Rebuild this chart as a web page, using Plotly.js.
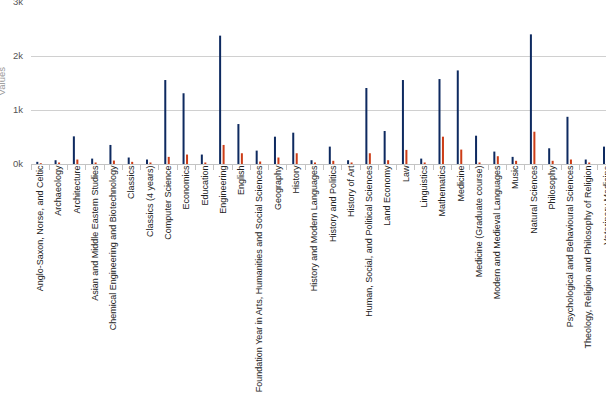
<!DOCTYPE html>
<html>
<head>
<meta charset="utf-8">
<script src="https://cdn.plot.ly/plotly-3.0.1.min.js"></script>
<style>
html, body { margin: 0; padding: 0; overflow: hidden; background: #fff; }
#chart { width: 630px; height: 400px; }
</style>
</head>
<body>
<div id="chart"></div>
<script>
const categories = [
  "Anglo-Saxon, Norse, and Celtic", "Archaeology", "Architecture",
  "Asian and Middle Eastern Studies", "Chemical Engineering and Biotechnology",
  "Classics", "Classics (4 years)", "Computer Science", "Economics", "Education",
  "Engineering", "English", "Foundation Year in Arts, Humanities and Social Sciences",
  "Geography", "History", "History and Modern Languages", "History and Politics",
  "History of Art", "Human, Social, and Political Sciences", "Land Economy", "Law",
  "Linguistics", "Mathematics", "Medicine", "Medicine (Graduate course)",
  "Modern and Medieval Languages", "Music", "Natural Sciences", "Philosophy",
  "Psychological and Behavioural Sciences",
  "Theology, Religion and Philosophy of Religion", "Veterinary Medicine"
];
const seriesA = [40, 70, 512, 100, 353, 120, 83, 1555, 1310, 175,
  2377, 740, 248, 506, 580, 70, 322, 70, 1408, 611, 1555,
  100, 1573, 1733, 524, 230, 132, 2401, 291, 874, 83, 322];
const seriesB = [15, 28, 83, 28, 64, 40, 28, 132, 175, 28,
  353, 199, 46, 120, 199, 28, 59, 28, 199, 70, 261,
  28, 506, 267, 28, 144, 59, 598, 59, 83, 28, 40];
const yTickVals = [0, 1000, 2000, 3000];
const yTickText = ["0k", "1k", "2k", "3k"];
const yTitle = "Values";

const traces = [
  { type: "bar", x: categories, y: seriesA, name: "Series A",
    marker: { color: "#0e2a60" }, width: 0.11, offset: -0.21, hoverinfo: "none" },
  { type: "bar", x: categories, y: seriesB, name: "Series B",
    marker: { color: "#cc3d17" }, width: 0.11, offset: -0.02, hoverinfo: "none" }
];

const layout = {
  width: 630, height: 400,
  margin: { l: 31, r: 14, t: 2, b: 236, pad: 0 },
  paper_bgcolor: "#ffffff", plot_bgcolor: "#ffffff",
  barmode: "overlay",
  showlegend: false,
  font: { family: "Arial, 'Liberation Sans', sans-serif", size: 9, color: "#222" },
  xaxis: {
    type: "category",
    range: [-0.5, 31.5],
    tickson: "boundaries",
    ticks: "outside", ticklen: 5, tickcolor: "#c4c4c4", tickwidth: 1,
    showgrid: false,
    showline: true, linecolor: "#c4c4c4", linewidth: 1,
    tickangle: -90,
    ticklabelstandoff: -3,
    tickfont: { size: 9, color: "#222" },
    automargin: false, fixedrange: true
  },
  yaxis: {
    range: [0, 3000],
    tickvals: yTickVals, ticktext: yTickText,
    showgrid: true, gridcolor: "#d0d0d0", gridwidth: 1,
    zeroline: false, showline: false,
    ticks: "", ticklabelstandoff: 7,
    ticklabeloverflow: "allow",
    tickfont: { size: 9.5, color: "#555" },
    automargin: false, fixedrange: true
  },
  annotations: [{
    text: yTitle, textangle: -90, showarrow: false,
    xref: "paper", yref: "paper", x: -30 / 585, y: 0.51,
    xanchor: "center", yanchor: "middle",
    font: { family: "Arial, 'Liberation Sans', sans-serif", size: 9.5, color: "#999" }
  }]
};

Plotly.newPlot("chart", traces, layout, { staticPlot: true, displayModeBar: false });
</script>
</body>
</html>
